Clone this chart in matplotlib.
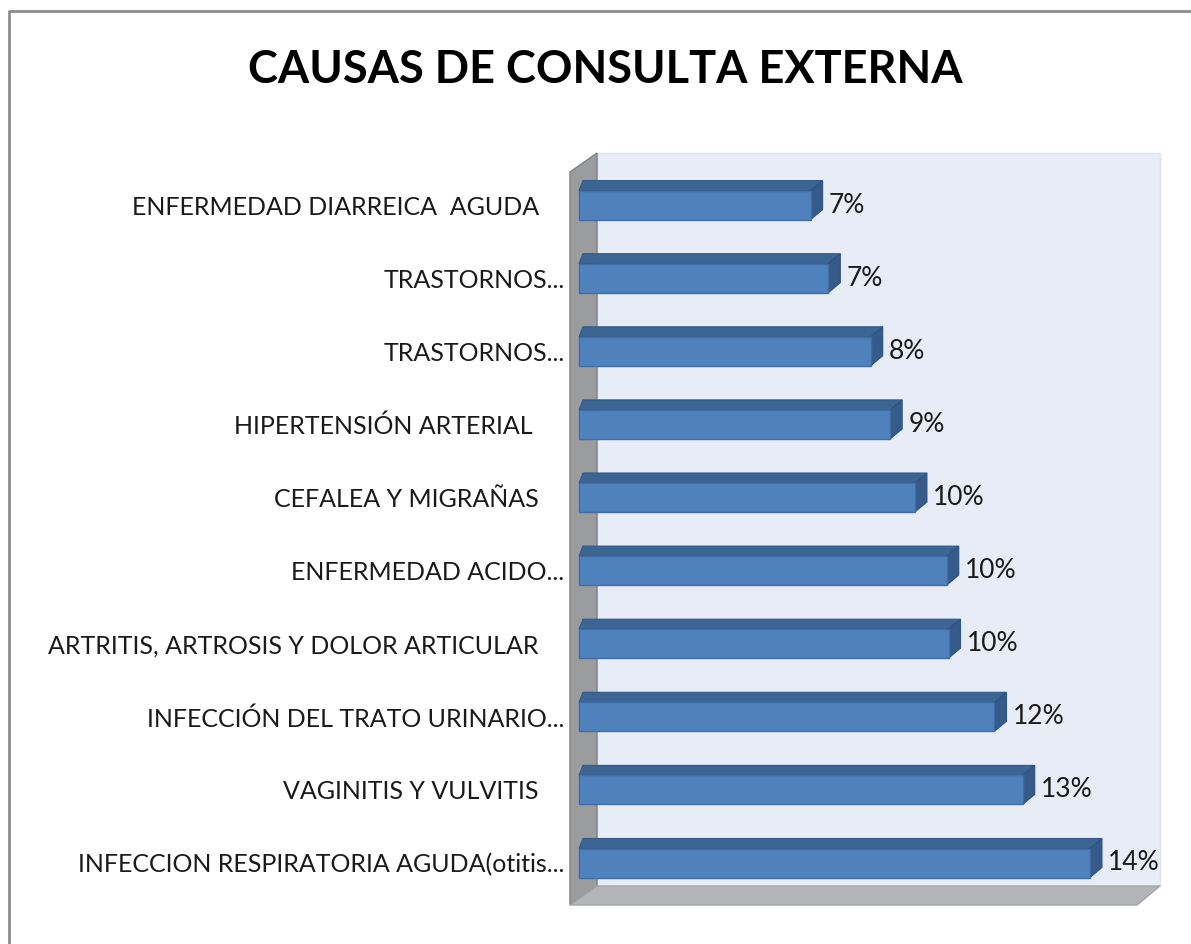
import numpy as np
import matplotlib
matplotlib.use("Agg")
import matplotlib.pyplot as plt
from matplotlib.patches import Polygon, Rectangle
from matplotlib.lines import Line2D

plt.rcParams['font.family'] = ['Lato', 'DejaVu Sans']

# datos (de abajo hacia arriba)
causas = [
    "INFECCION RESPIRATORIA AGUDA(otitis...",
    "VAGINITIS Y VULVITIS    ",
    "INFECCIÓN DEL TRATO URINARIO...",
    "ARTRITIS, ARTROSIS Y DOLOR ARTICULAR    ",
    "ENFERMEDAD ACIDO...",
    "CEFALEA Y MIGRAÑAS    ",
    "HIPERTENSIÓN ARTERIAL     ",
    "TRASTORNOS...",
    "TRASTORNOS...",
    "ENFERMEDAD DIARREICA  AGUDA    ",
]
porcentaje = [14.45, 12.55, 11.75, 10.45, 10.4, 9.5, 8.8, 8.25, 7.05, 6.55]
titulo = "CAUSAS DE CONSULTA EXTERNA"

W, H = 1191, 944
fig = plt.figure(figsize=(W / 100, H / 100), dpi=100)
fig.patch.set_facecolor('white')

def fx(x):
    return x / W

def fy(y):
    return 1 - y / H

# marco exterior
fig.add_artist(Line2D([fx(9), fx(9), fx(W)], [0, fy(11), fy(11)], color='#8c8c8c', lw=2,
                      transform=fig.transFigure))

# paredes del grafico 3d (pixeles)
back = [(597, 153), (1160, 153), (1160, 886), (597, 886)]
side = [(570, 172), (597, 153), (597, 886), (570, 905)]
floor = [(570, 905), (597, 886), (1160, 886), (1137, 905)]
for pts, fc, ec in [(back, '#e8ecf6', '#dde1ea'), (side, '#9b9c9e', '#808184'), (floor, '#b3b5b9', '#a3a5a9')]:
    fig.add_artist(Polygon([(fx(a), fy(b)) for a, b in pts], closed=True, facecolor=fc,
                           edgecolor=ec, lw=1, transform=fig.transFigure, zorder=-1))

# ejes sobre el plano frontal
px0, px1, py0, py1 = 570, 1137, 172, 905
x_cero = 579
k = 35.36        # px por %
paso = 73.1      # px por categoria
y_base = 863     # centro de la primera barra
ax = fig.add_axes([fx(px0), fy(py1), (px1 - px0) / W, (py1 - py0) / H])
ax.patch.set_visible(False)
ax.set_xlim(-(x_cero - px0) / k, (px1 - x_cero) / k)
ax.set_ylim(-(py1 - y_base) / paso, (y_base - py0) / paso)
for s in ax.spines.values():
    s.set_visible(False)
ax.set_xticks([])

h = 29 / paso
dy = 10 / paso
dxr = 12 / k
dxl = 4 / k
for i, v in enumerate(porcentaje):
    yb = i - h / 2
    yt = i + h / 2
    ax.add_patch(Polygon([(0, yt), (v, yt), (v + dxr, yt + dy), (dxl, yt + dy)], closed=True,
                         facecolor='#3d6594', edgecolor='#335a88', lw=0.8))
    ax.add_patch(Polygon([(v, yt), (v + dxr, yt + dy), (v + dxr, yb + dy), (v, yb)], closed=True,
                         facecolor='#345b8a', edgecolor='#2f5380', lw=0.8))
    ax.add_patch(Rectangle((0, yb), v, h, facecolor='#4f81bd', edgecolor='#3f6ea6', lw=1))
    ax.text(v + 18 / k, i, f"{v:.0f}%", va='center', ha='left', fontsize=19, color='#1a1a1a')

ax.set_yticks(np.arange(len(causas)))
ax.set_yticklabels(causas, fontsize=18, color='#1a1a1a')
ax.tick_params(axis='y', length=0, pad=4)

fig.text(fx(605), fy(83), titulo, ha='center', va='baseline', fontsize=32.5,
         fontweight='bold', color='black')

fig.savefig('out.png', dpi=100)
